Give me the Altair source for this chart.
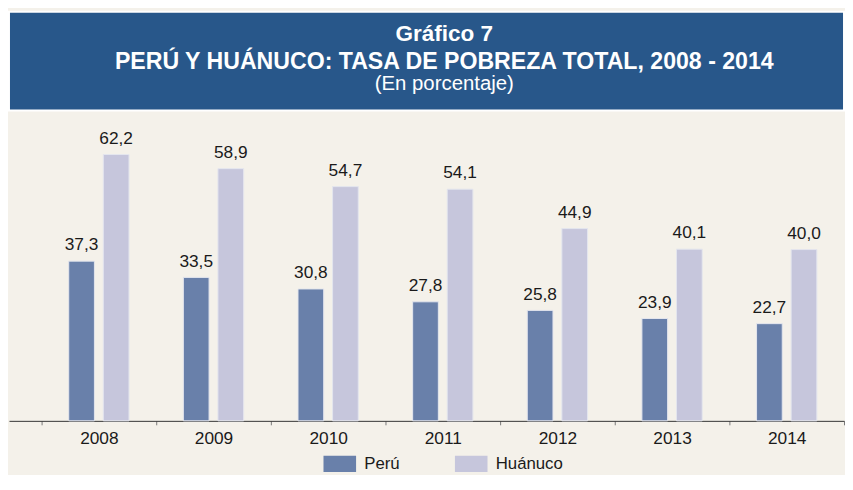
import altair as alt
import pandas as pd

years = ["2008", "2009", "2010", "2011", "2012", "2013", "2014"]
peru = [37.3, 33.5, 30.8, 27.8, 25.8, 23.9, 22.7]
huanuco = [62.2, 58.9, 54.7, 54.1, 44.9, 40.1, 40.0]
series = ["Perú", "Huánuco"]
series_colors = ["#6980AA", "#C6C6DC"]
title_lines = [
    "Gráfico 7",
    "PERÚ Y HUÁNUCO: TASA DE POBREZA TOTAL, 2008 - 2014",
    "(En porcentaje)",
]

rows = []
for i, yr in enumerate(years):
    rows.append({"year": yr, "serie": series[0], "value": peru[i]})
    rows.append({"year": yr, "serie": series[1], "value": huanuco[i]})
df = pd.DataFrame(rows)

FONT = "Liberation Sans"
BLUE = "#28578A"
BG = "#F4F1EA"
TXT = "#1a1a1a"
W = 845

# ---- banner ----
one = pd.DataFrame({"k": [0]})
bb = alt.Chart(one)
t1 = bb.mark_text(font=FONT, fontSize=22.8, fontWeight="bold", color="white",
                  align="center", baseline="alphabetic").encode(
    x=alt.value(440.5), y=alt.value(29.5), text=alt.value(title_lines[0]))
t2 = bb.mark_text(font=FONT, fontSize=23.4, fontWeight="bold", color="white",
                  align="center", baseline="alphabetic").encode(
    x=alt.value(440.5), y=alt.value(57.5), text=alt.value(title_lines[1]))
t3 = bb.mark_text(font=FONT, fontSize=20.6, fontWeight="normal", color="white",
                  align="center", baseline="alphabetic").encode(
    x=alt.value(440.5), y=alt.value(79.5), text=alt.value(title_lines[2]))
banner = alt.layer(t1, t2, t3).properties(
    width=W, height=100,
    view=alt.ViewBackground(fill=BLUE, stroke="white", strokeWidth=2),
)

# ---- bars ----
base = alt.Chart(df).encode(
    x=alt.X("year:N", sort=years,
            scale=alt.Scale(paddingInner=0, paddingOuter=0.142, align=1),
            axis=alt.Axis(title=None, labelAngle=0, tickBand="extent",
                          domainColor="#333333", tickColor="#777777",
                          tickSize=4, labelPadding=5, labelFontSize=17.5,
                          labelFont=FONT, labelColor=TXT)),
    xOffset=alt.XOffset("serie:N", sort=series,
                        scale=alt.Scale(paddingInner=0.257, paddingOuter=0.786)),
    y=alt.Y("value:Q", scale=alt.Scale(domain=[0, 72], nice=False), axis=None),
)

bars = base.mark_bar(stroke="#E4E6EE", strokeWidth=1).encode(
    color=alt.Color("serie:N", sort=series,
                    scale=alt.Scale(domain=series, range=series_colors),
                    legend=alt.Legend(title=None, orient="none", legendX=326.25,
                                      legendY=449, direction="horizontal",
                                      symbolType="M-2,-1H2V1H-2Z",
                                      symbolSize=272, symbolStrokeWidth=0,
                                      labelFontSize=17, labelFont=FONT,
                                      labelColor=TXT, labelOffset=16.25,
                                      columnPadding=55, padding=0))
)

labels = base.transform_calculate(
    label="replace(format(datum.value, '.1f'), '.', ',')"
).mark_text(font=FONT, fontSize=17.5, color=TXT, align="center",
            baseline="alphabetic", dy=-11).encode(text="label:N")

chart_bars = alt.layer(bars, labels).properties(
    width=W, height=312,
    view=alt.ViewBackground(strokeWidth=0),
)

chart = alt.vconcat(banner, chart_bars, spacing=1).properties(
    background=BG, padding=0
).configure_view(strokeWidth=0)

chart.save("out.html", embed_options={"renderer": "svg", "actions": False})
